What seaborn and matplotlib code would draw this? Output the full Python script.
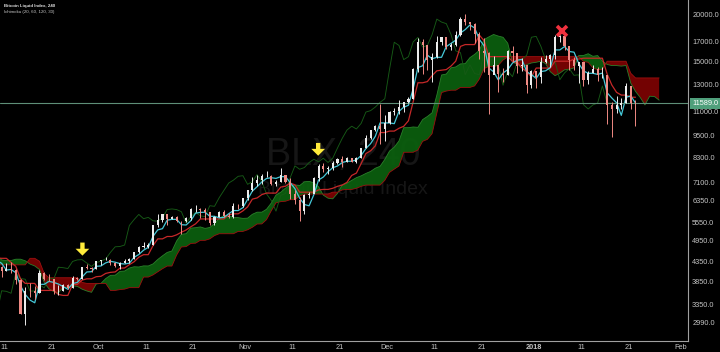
import numpy as np
import pandas as pd
import matplotlib
matplotlib.use("Agg")
import matplotlib.pyplot as plt
import matplotlib.dates as mdates
import matplotlib.transforms as mtransforms
import seaborn as sns

# ---------------- data (daily) ----------------
start_date = "2017-08-14"
first_open = 3880
close = [4073, 4181, 4376, 4331, 4160, 4193, 4087, 4001, 4100, 4151, 4334, 4371, 4352, 4382, 4382, 4579, 4565, 4703,
         4892, 4578, 4582, 4236, 4376, 4597, 4599, 4229, 4226, 4122, 4161, 4130, 3882, 3154, 3637, 3625, 3582, 4065,
         3924, 3906, 3631, 3631, 3776, 3703, 3942, 3910, 4208, 4195, 4174, 4360,
         4403, 4409, 4318, 4229, 4329, 4370, 4427, 4611, 4773, 4782, 4826, 5446, 5647, 5831, 5679, 5725, 5605, 5590,
         5708, 6011, 6031, 6008, 5930, 5526, 5750, 5904, 5780, 5753, 6153, 6130, 6468,
         6767, 7078, 7207, 7379, 7407, 7022, 7144, 7459, 7143, 6618, 6357, 5950, 6559, 6635, 7315, 7871, 7708, 7790,
         8036, 8200, 8071, 8253, 8038, 8253, 8790, 9330, 9818, 10058, 9888, 10233,
         10975, 11074, 11323, 11657, 11916, 14291, 16900, 16569, 15178, 15455, 16937, 17415, 16408, 16564, 17706,
         19498, 19140, 18961, 17737, 16026, 15838, 13831, 14700, 13926, 13831, 16000, 15838, 14606, 14656, 12953, 14157,
         13657, 14982, 15201, 15599, 17429, 17527, 16477, 15170, 14595, 14973, 13405, 13980, 14360, 13773, 13819,
         11490, 11188, 11474, 11607, 12899, 11600, 11589]
high = [4208, 4367, 4397, 4485, 4371, 4242, 4196, 4110, 4137, 4255, 4371, 4453, 4376, 4400, 4394, 4626, 4647, 4736,
        4892, 4939, 4714, 4591, 4472, 4654, 4655, 4668, 4320, 4245, 4308, 4344, 4165, 3921, 3733, 3809, 3744, 4123,
        4096, 4031, 3912, 3758, 3788, 3789, 3979, 3968, 4217, 4279, 4226, 4383,
        4403, 4471, 4436, 4348, 4356, 4413, 4457, 4626, 4783, 4923, 4876, 5447, 5856, 5838, 5856, 5785, 5764, 5603,
        5744, 6061, 6180, 6077, 6075, 5935, 5768, 5970, 6000, 5866, 6255, 6214, 6470,
        6767, 7367, 7461, 7492, 7617, 7445, 7207, 7776, 7446, 7287, 6796, 6490, 6626, 6696, 7330, 7964, 8004, 7884,
        8102, 8267, 8374, 8302, 8267, 8336, 8791, 9522, 9818, 10125, 11517, 10801,
        11046, 11232, 11858, 11657, 12032, 14369, 17300, 17294, 16637, 15783, 17567, 17469, 17085, 16869, 18154,
        19716, 20089, 19177, 19021, 17987, 17323, 15943, 15493, 14612, 14453, 16094, 16462, 15813, 15322, 14681, 14242,
        14112, 15444, 15572, 15739, 17705, 17706, 17579, 16537, 15396, 14973, 14979, 14109, 14659, 14511, 14541,
        13843, 11679, 12108, 11992, 13099, 12899, 11860]
low = [3881, 3884, 3995, 4200, 3970, 3970, 4040, 3989, 3600, 4078, 4085, 4250, 4298, 4336, 4193, 4348, 4492, 4569,
       4701, 4469, 4360, 4108, 3972, 4385, 4491, 4106, 4136, 3951, 4111, 4069, 3789, 3153, 2946, 3507, 3447, 3586,
       3877, 3868, 3567, 3553, 3628, 3681, 3702, 3892, 3906, 4159, 4078, 4173,
       4269, 4390, 4256, 4209, 4170, 4320, 4319, 4425, 4591, 4735, 4743, 4822, 5400, 5575, 5454, 5684, 5565, 5159,
       5575, 5628, 5905, 5703, 5640, 5451, 5450, 5740, 5732, 5710, 5688, 6030, 6103,
       6377, 6758, 6946, 7031, 7333, 7013, 6952, 7114, 7101, 6423, 6226, 5605, 5844, 6463, 6685, 7176, 7561, 7463,
       7694, 7942, 7824, 8075, 8038, 8000, 8244, 8775, 9317, 9736, 9009, 9202,
       10195, 10761, 10863, 10978, 11604, 11923, 14057, 13906, 14209, 13226, 15343, 16596, 16186, 16085, 16462,
       17516, 18750, 18254, 16812, 15216, 14023, 10834, 13934, 12448, 13257, 13802, 14923, 13940, 14150, 12350, 12755,
       12755, 13163, 14844, 14522, 15202, 16883, 16087, 14208, 14236, 13131, 12915, 13048, 13952, 13268, 13542,
       10194, 9402, 10942, 11172, 11607, 11180, 10100]

last_price = 11589
ytick_values = [2990, 3350, 3850, 4350, 4950, 5550, 6350, 7100, 8300, 9500, 11000, 13000, 15000, 17000, 20000]
xtick_dates = ["2017-09-11", "2017-09-21", "2017-10-01", "2017-10-11", "2017-10-21", "2017-11-01", "2017-11-11",
               "2017-11-21", "2017-12-01", "2017-12-11", "2017-12-21", "2018-01-01", "2018-01-11", "2018-01-21",
               "2018-02-01"]
xtick_labels = ["11", "21", "Oct", "11", "21", "Nov", "11", "21", "Dec", "11", "21", "2018", "11", "21", "Feb"]
ichimoku_params = (20, 60, 120, 30)
# annotation markers (date, tip price, tail price)
yellow_arrows = [("2017-09-27 14:00", 4520, 4900), ("2017-11-16 10:00", 8380, 9070)]
red_cross = ("2018-01-06 22:00", 18170)

# ---------------- frame & ichimoku (4h periods -> days) ----------------
dates = pd.date_range(start_date, periods=len(close), freq="D") + pd.Timedelta(hours=12)
df = pd.DataFrame({"close": close, "high": high, "low": low}, index=dates)
df["open"] = [first_open] + close[:-1]

t_per, k_per, b_per, disp = [round(p * 4 / 24) for p in ichimoku_params]
tenkan = (df.high.rolling(t_per).max() + df.low.rolling(t_per).min()) / 2
kijun = (df.high.rolling(k_per).max() + df.low.rolling(k_per).min()) / 2
span_a = (tenkan + kijun) / 2
span_b = (df.high.rolling(b_per).max() + df.low.rolling(b_per).min()) / 2
span_x = dates + pd.Timedelta(days=disp)
lag_x = dates - pd.Timedelta(days=disp)

# ---------------- figure ----------------
sns.set_theme(style="dark")
plt.rcParams["font.family"] = ["Liberation Sans", "DejaVu Sans"]
fig = plt.figure(figsize=(7.2, 3.52), dpi=100, facecolor="black")
ax = fig.add_axes([0, 11.5 / 352, 688 / 720, 340.5 / 352])
ax.set_facecolor("black")
ax.set_yscale("log")
ax.grid(False)

x0 = pd.Timestamp("2017-09-11") - pd.Timedelta(days=0.846)
x1 = pd.Timestamp("2017-09-11") + pd.Timedelta(days=144.6)
ax.set_xlim(x0, x1)
ax.set_ylim(2675, 21940)

# watermark
ax.text(0.4985, 0.545, "BLX, 240", transform=ax.transAxes, ha="center", va="center",
        fontsize=27, color="#161616", zorder=0)
ax.text(0.4985, 0.443, "Bitcoin Liquid Index", transform=ax.transAxes, ha="center", va="center",
        fontsize=14, color="#161616", zorder=0)

# cloud
sx = mdates.date2num(span_x)
a = span_a.values
b = span_b.values
ok = ~np.isnan(a) & ~np.isnan(b)
ax.fill_between(sx[ok], a[ok], b[ok], where=(a[ok] >= b[ok]), interpolate=True,
                color="#0b5e0e", alpha=0.95, lw=0, zorder=1)
ax.fill_between(sx[ok], a[ok], b[ok], where=(a[ok] < b[ok]), interpolate=True,
                color="#7a0303", alpha=0.95, lw=0, zorder=1)
sns.lineplot(x=span_x[ok], y=a[ok], ax=ax, color="#2a7f2a", linewidth=0.6, zorder=2)
sns.lineplot(x=span_x[ok], y=b[ok], ax=ax, color="#9c1010", linewidth=0.6, zorder=2)

# lagging span
sns.lineplot(x=lag_x, y=df.close.values, ax=ax, color="#165a16", linewidth=0.65, zorder=2)
# base & conversion lines
kok = ~kijun.isna()
sns.lineplot(x=dates[kok], y=kijun[kok].values, ax=ax, color="#c62828", linewidth=0.9, zorder=3)
tok = ~tenkan.isna()
sns.lineplot(x=dates[tok], y=tenkan[tok].values, ax=ax, color="#45c8d8", linewidth=0.9, zorder=3)

# candles
up = df.close >= df.open
cols = np.where(up, "#ececec", "#f08a84")
xn = mdates.date2num(dates)
ax.vlines(xn, df.low, df.high, colors=cols, linewidth=0.7, zorder=4)
body_lo = np.minimum(df.open, df.close)
body_h = np.maximum(np.abs(df.close - df.open), df.close * 0.002)
ax.bar(xn, body_h, bottom=body_lo, width=0.45, color=cols, linewidth=0, zorder=5)

# last price line & label
ax.axhline(last_price, color="#5e8f78", linewidth=0.8, zorder=3)
trans = mtransforms.blended_transform_factory(ax.transAxes, ax.transData)
ax.text(1.006, last_price, f"{last_price:.1f}", transform=trans, ha="left", va="center",
        fontsize=5.3, color="white", zorder=10, clip_on=False,
        bbox=dict(facecolor="#4f9f7b", edgecolor="none", boxstyle="square,pad=0.3"))

# markers
for d, tip, tail in yellow_arrows:
    ax.annotate("", xy=(pd.Timestamp(d), tip), xytext=(pd.Timestamp(d), tail),
                arrowprops=dict(arrowstyle="simple,head_width=1.1,head_length=0.55,tail_width=0.35",
                                color="#ffeb3b", lw=0, shrinkA=0, shrinkB=0, mutation_scale=9), zorder=8)
ax.plot([pd.Timestamp(red_cross[0])], [red_cross[1]], marker="x", markersize=6.5, mew=2.6,
        color="#f0313e", linestyle="none", zorder=8)

# axes styling
ax.yaxis.tick_right()
ax.yaxis.set_major_locator(matplotlib.ticker.FixedLocator(ytick_values))
ax.yaxis.set_minor_locator(matplotlib.ticker.NullLocator())
ax.set_yticklabels([f"{v:.1f}" for v in ytick_values])
ax.set_xticks([pd.Timestamp(d) for d in xtick_dates])
ax.set_xticklabels(xtick_labels)
for lbl in ax.get_xticklabels():
    if lbl.get_text() == "2018":
        lbl.set_fontweight("bold")
ax.tick_params(axis="both", colors="#c4c4c4", labelsize=5.3, length=1.5, width=0.6, pad=0.8)
ax.tick_params(axis="y", length=0, pad=3)
ax.set_xlabel("")
ax.set_ylabel("")
for s in ["top", "left"]:
    ax.spines[s].set_visible(False)
for s in ["right", "bottom"]:
    ax.spines[s].set_visible(True)
    ax.spines[s].set_color("#a0a0a0")
    ax.spines[s].set_linewidth(0.8)
if ax.get_legend():
    ax.get_legend().remove()

# titles
fig.text(4 / 720, 1 - 5.5 / 352, "Bitcoin Liquid Index, 240", fontsize=3.2, fontweight="bold",
         color="#e0e0e0", va="center", ha="left")
fig.text(4 / 720, 1 - 12 / 352, "Ichimoku (20, 60, 120, 30)", fontsize=3.2, color="#c8c8c8",
         va="center", ha="left")

fig.savefig("out.png", dpi=100, facecolor="black")
